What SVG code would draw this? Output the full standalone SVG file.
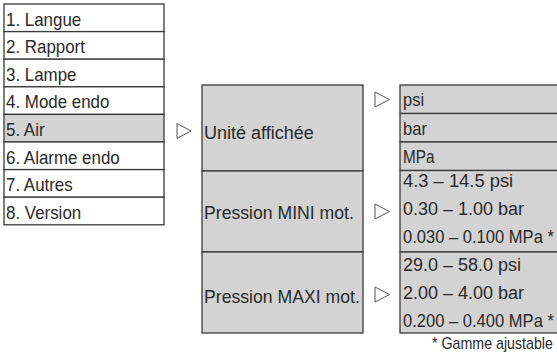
<svg xmlns="http://www.w3.org/2000/svg" width="557" height="357" viewBox="0 0 557 357">
<style>
.cell{stroke:#3a3a3a;stroke-width:1.3}
.w{fill:#ffffff}
.g{fill:#d3d3d3}
.t{font-family:"Liberation Sans",Arial,sans-serif;font-size:18px;fill:#2a2a2a}
.s{font-size:16px}
.arr{fill:none;stroke:#555555;stroke-width:1;stroke-linejoin:miter}
</style>
<rect x="0" y="0" width="557" height="357" fill="#ffffff"/>
<g id="menu">
  <g id="m1"><rect class="cell w" x="4" y="4" width="160" height="27.6"/><text class="t" transform="translate(6,25.5) scale(0.94,1)">1. Langue</text></g>
  <g id="m2"><rect class="cell w" x="4" y="31.6" width="160" height="27.6"/><text class="t" transform="translate(6,53.1) scale(0.94,1)">2. Rapport</text></g>
  <g id="m3"><rect class="cell w" x="4" y="59.2" width="160" height="27.6"/><text class="t" transform="translate(6,80.7) scale(0.94,1)">3. Lampe</text></g>
  <g id="m4"><rect class="cell w" x="4" y="86.8" width="160" height="27.6"/><text class="t" transform="translate(6,108.3) scale(0.94,1)">4. Mode endo</text></g>
  <g id="m5"><rect class="cell g" x="4" y="114.4" width="160" height="27.6"/><text class="t" transform="translate(6,135.9) scale(0.94,1)">5. Air</text></g>
  <g id="m6"><rect class="cell w" x="4" y="142" width="160" height="27.6"/><text class="t" transform="translate(6,163.5) scale(0.94,1)">6. Alarme endo</text></g>
  <g id="m7"><rect class="cell w" x="4" y="169.6" width="160" height="27.6"/><text class="t" transform="translate(6,191.1) scale(0.94,1)">7. Autres</text></g>
  <g id="m8"><rect class="cell w" x="4" y="197.2" width="160" height="27.6"/><text class="t" transform="translate(6,218.7) scale(0.94,1)">8. Version</text></g>
</g>
<g id="unite"><rect class="cell g" x="202" y="85" width="161" height="86"/><text class="t" transform="translate(204,139) scale(1,1)">Unité affichée</text></g>
<g id="pmini"><rect class="cell g" x="202" y="171" width="161" height="81"/><text class="t" transform="translate(204,219) scale(0.98,1)">Pression MINI mot.</text></g>
<g id="pmaxi"><rect class="cell g" x="202" y="252" width="161" height="81"/><text class="t" transform="translate(204,303) scale(0.98,1)">Pression MAXI mot.</text></g>
<g id="psi"><rect class="cell g" x="400" y="85" width="160" height="28.5"/><text class="t" transform="translate(403,106) scale(0.92,1)">psi</text></g>
<g id="bar"><rect class="cell g" x="400" y="113.5" width="160" height="28.5"/><text class="t" transform="translate(403,134.5) scale(0.92,1)">bar</text></g>
<g id="mpa"><rect class="cell g" x="400" y="142" width="160" height="28.5"/><text class="t" transform="translate(403,163) scale(0.85,1)">MPa</text></g>
<g id="minirange"><rect class="cell g" x="400" y="170.5" width="160" height="81.5"/>
  <text class="t" transform="translate(403,187) scale(1.02,1)">4.3 – 14.5 psi</text>
  <text class="t" transform="translate(403,215) scale(1.0,1)">0.30 – 1.00 bar</text>
  <text class="t" transform="translate(403,243) scale(0.92,1)">0.030 – 0.100 MPa *</text>
</g>
<g id="maxirange"><rect class="cell g" x="400" y="252" width="160" height="81"/>
  <text class="t" transform="translate(403,271) scale(1.0,1)">29.0 – 58.0 psi</text>
  <text class="t" transform="translate(403,299) scale(1.0,1)">2.00 – 4.00 bar</text>
  <text class="t" transform="translate(403,327) scale(0.92,1)">0.200 – 0.400 MPa *</text>
</g>
<g id="note"><text class="t s" transform="translate(432,349) scale(0.89,1)">* Gamme ajustable</text></g>
<g id="connectors">
  <path class="arr" d="M177,123.5 L191,131 L177,138.5 Z"/>
  <path class="arr" d="M375,92 L389.5,99.5 L375,107 Z"/>
  <path class="arr" d="M375,204 L389.5,211.5 L375,219 Z"/>
  <path class="arr" d="M375,287 L389.5,294.5 L375,302 Z"/>
</g>
</svg>
